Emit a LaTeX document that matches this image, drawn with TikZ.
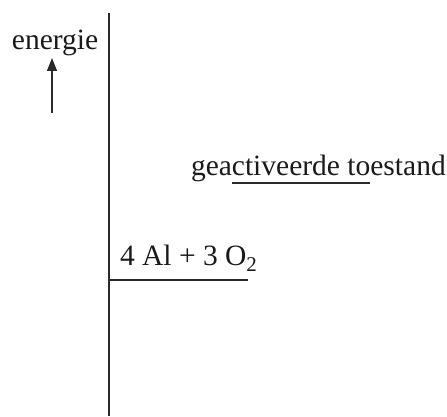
\documentclass[tikz,border=0pt]{standalone}
\usepackage{fontspec}
\setmainfont{Liberation Serif}
\usetikzlibrary{arrows.meta}
\definecolor{ink}{HTML}{2A2A2A}
\definecolor{txt}{HTML}{1A1A1A}
\begin{document}
\begin{tikzpicture}[x=1pt,y=1pt,
  lbl/.style={anchor=base west,inner sep=0pt,outer sep=0pt,text=txt,font=\fontsize{29.5}{34}\selectfont},
  ln/.style={draw=ink,line width=1.6pt}]
\useasboundingbox (0,0) rectangle (447,416);
% axis
\coordinate (axtop) at (109,403);
\coordinate (axbot) at (109,0);
\draw[ln] (axtop) -- (axbot);
% energy label and arrow
\node[lbl] (en) at (12,366) {energie};
\coordinate (arB) at (52,303);
\coordinate (arT) at (52,358);
\draw[ln,line width=1.4pt,-{Triangle[length=13pt,width=10pt]}] (arB) -- (arT);
% activated state
\node[lbl] (act) at (191,241) {geactiveerde toestand};
\coordinate (actL) at (232,233);
\coordinate (actR) at (370,233);
\draw[ln] (actL) -- (actR);
% reactants
\node[lbl] (reac) at (120,151) {4 Al + 3 O\raisebox{-6.5pt}{\fontsize{21}{24}\selectfont 2}};
\coordinate (reL) at (109,136);
\coordinate (reR) at (248,136);
\draw[ln] (reL) -- (reR);
\end{tikzpicture}
\end{document}
